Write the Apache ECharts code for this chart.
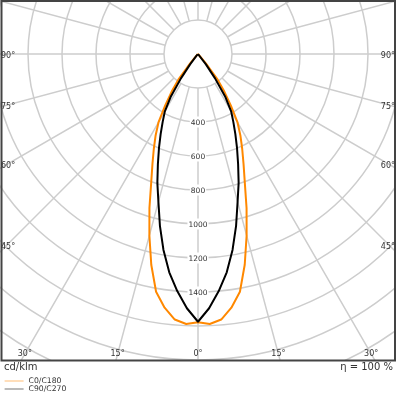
<!DOCTYPE html>
<html><head><meta charset="utf-8">
<script src="https://cdn.jsdelivr.net/npm/echarts@6/dist/echarts.min.js"></script>
<style>html,body{margin:0;padding:0;background:#fff}#c{width:396px;height:396px}</style>
</head><body><div id="c"></div>
<script>
// ---- data (cd/klm vs gamma angle in degrees) ----
const gammaAngles    = [0, 2.5, 5, 7.5, 10, 12.5, 15, 17.5, 20, 22.5, 25, 27.5, 30, 32.5, 35, 37.5, 40, 42.5, 45, 50, 60, 70, 80, 90];
const c0c180Values   = [1578, 1590, 1568, 1505, 1420, 1270, 1105, 950, 805, 700, 615, 540, 465, 360, 270, 190, 70, 15, 5, 2, 1, 0, 0, 0];
const c90c270Values  = [1575, 1497, 1400, 1295, 1170, 1035, 900, 795, 690, 600, 520, 450, 390, 300, 175, 75, 15, 3, 1, 0, 0, 0, 0, 0];
const radiusTickLabels = [400, 600, 800, 1000, 1200, 1400];
const angleTickLabels  = [90, 75, 60, 45, 30, 15, 0];
const seriesNames = ['C0/C180', 'C90/C270'];
const unitLabel = 'cd/klm';
const efficiencyLabel = 'η = 100 %';

// ---- layout ----
const CX = 198, CY = 54;
const PX_PER_UNIT = 0.17, R_MAX = 2200, R_INNER = 200;
const FRAME = {l: 1.5, t: 1, r: 395, b: 360.5};
const FONT = 'DejaVu Sans';

function planeData(values) {
  const pts = [];
  for (let i = gammaAngles.length - 1; i >= 0; i--) pts.push([values[i], 360 - gammaAngles[i]]);
  for (let i = 0; i < gammaAngles.length; i++) pts.push([values[i], gammaAngles[i]]);
  return pts;
}

const graphics = [];
// mask below frame
graphics.push({type: 'rect', z: 3, silent: true, shape: {x: 0, y: FRAME.b + 0.5, width: 396, height: 396 - FRAME.b}, style: {fill: '#fff'}});
// frame
graphics.push({type: 'rect', z: 4, silent: true, shape: {x: FRAME.l, y: FRAME.t, width: FRAME.r - FRAME.l, height: FRAME.b - FRAME.t}, style: {fill: 'none', stroke: '#444', lineWidth: 2}});

function txt(text, x, y, align, size) {
  graphics.push({type: 'text', z: 6, silent: true, style: {text: text, x: x, y: y, fill: '#333', fontSize: size, fontFamily: FONT, align: align, verticalAlign: 'middle'}});
}
angleTickLabels.forEach(a => {
  const rad = a * Math.PI / 180;
  const ySide = CY + (CX - 7) * Math.cos(rad) / Math.sin(rad) + 2;
  if (a > 0 && ySide < FRAME.b - 12) {
    txt(a + '°', 1, ySide, 'left', 8);
    txt(a + '°', 395, ySide, 'right', 8);
  } else {
    const yb = FRAME.b - 6.5;
    const dx = (yb - CY) * Math.tan(rad);
    if (a === 0) txt(a + '°', CX, yb, 'center', 8);
    else { txt(a + '°', CX - dx, yb, 'center', 8); txt(a + '°', CX + dx, yb, 'center', 8); }
  }
});
txt(unitLabel, 4, 367, 'left', 10);
txt(efficiencyLabel, 393, 367, 'right', 10);

const gridColor = '#cdcdcd';
const option = {
  animation: false,
  backgroundColor: '#fff',
  polar: [
    {center: [CX, CY], radius: R_MAX * PX_PER_UNIT},
    {center: [CX, CY], radius: [R_INNER * PX_PER_UNIT, R_MAX * PX_PER_UNIT]}
  ],
  angleAxis: [
    {polarIndex: 0, type: 'value', min: 0, max: 360, startAngle: 270, clockwise: true,
     axisLine: {show: false}, axisTick: {show: false}, axisLabel: {show: false}, splitLine: {show: false}},
    {polarIndex: 1, type: 'value', min: 0, max: 360, interval: 15, startAngle: 270, clockwise: true, z: 0,
     axisLine: {show: false}, axisTick: {show: false}, axisLabel: {show: false},
     splitLine: {show: true, lineStyle: {color: gridColor, width: 1.5}}}
  ],
  radiusAxis: [
    {polarIndex: 0, type: 'value', min: 0, max: R_MAX, interval: 200, z: 1,
     axisLine: {show: false}, axisTick: {show: false},
     splitLine: {show: true, lineStyle: {color: gridColor, width: 1.5}},
     axisLabel: {show: true, margin: 0, align: 'center', verticalAlign: 'middle',
       formatter: v => radiusTickLabels.includes(v) ? '{a|' + v + '}' : '',
       rich: {a: {backgroundColor: '#fff', padding: [3, 1, 0, 1], fontSize: 7.5, color: '#333', fontFamily: FONT}}}},
    {polarIndex: 1, type: 'value', min: 0, max: R_MAX, show: false}
  ],
  legend: {
    orient: 'vertical', left: 4, top: 377, padding: 0, itemGap: 0, itemWidth: 19, itemHeight: 8,
    data: seriesNames,
    itemStyle: {opacity: 0},
    lineStyle: {width: 1.2, opacity: 0.45},
    textStyle: {fontSize: 7.7, lineHeight: 8, color: '#333', fontFamily: FONT}
  },
  series: [
    {name: seriesNames[0], type: 'line', coordinateSystem: 'polar', polarIndex: 0, symbol: 'none', z: 2,
     data: planeData(c0c180Values), lineStyle: {color: '#ff8800', width: 2}, itemStyle: {color: '#ff8800'}},
    {name: seriesNames[1], type: 'line', coordinateSystem: 'polar', polarIndex: 0, symbol: 'none', z: 2,
     data: planeData(c90c270Values), lineStyle: {color: '#000', width: 2}, itemStyle: {color: '#000'}}
  ],
  graphic: graphics
};
const chart = echarts.init(document.getElementById('c'), null, {renderer: 'canvas'});
chart.setOption(option);
</script></body></html>
